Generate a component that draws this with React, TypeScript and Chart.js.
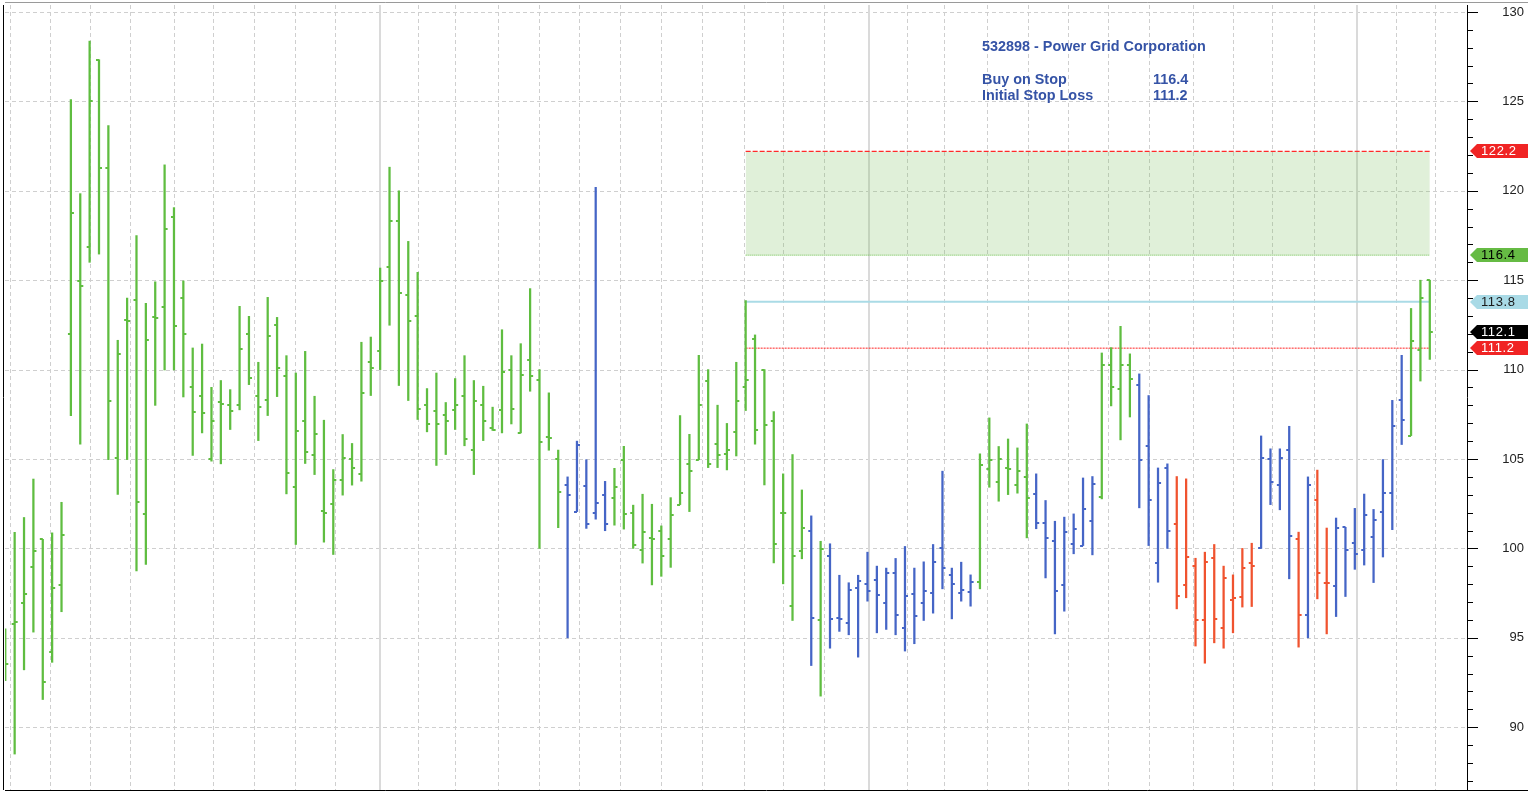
import React, { useEffect, useRef } from 'react';
import { Chart, registerables } from 'chart.js';

Chart.register(...registerables);

// ---- weekly OHLC data (bar index 0..152) ----
const opens = [
  94.0, 95.76, 96.93, 98.95, 100.5, 94.2, 97.96, 111.97, 114.96, 116.85,
  127.3, 121.26, 105.05, 112.75, 113.92, 101.91, 112.96, 113.48, 118.51, 114.0,
  109.0, 108.51, 105.0, 108.21, 108.01, 108.0, 112.0, 108.51, 108.32, 112.48,
  109.66, 103.43, 107.11, 105.25, 102.09, 102.46, 103.85, 105.0, 104.17, 110.41,
  111.02, 115.72, 118.31, 114.19, 112.98, 108.0, 107.71, 107.45, 107.73, 108.51,
  105.51, 108.0, 106.76, 107.73, 110.0, 106.46, 110.52, 109.42, 106.24, 105.0,
  103.57, 102.06, 103.5, 101.97, 103.01, 102.83, 104.96, 101.97, 99.91, 100.56,
  100.99, 100.5, 102.45, 104.7, 104.96, 109.35, 105.82, 105.26, 106.49, 109.01,
  111.71, 110.0, 107.13, 101.99, 96.79, 99.85, 100.96, 95.97, 99.6, 96.1,
  95.82, 97.76, 98.0, 98.24, 96.96, 98.62, 95.56, 97.44, 96.96, 97.52,
  100.0, 98.49, 97.52, 97.59, 98.13, 104.45, 103.7, 104.5, 103.52, 104.02,
  103.05, 101.43, 100.4, 97.98, 100.26, 100.16, 101.56, 102.9, 110.26, 108.92,
  110.26, 109.14, 105.71, 99.16, 104.5, 101.37, 97.98, 98.99, 95.97, 99.47,
  95.56, 97.09, 97.27, 99.17, 100.0, 105.0, 103.57, 105.53, 100.52, 96.28,
  102.72, 98.05, 97.92, 101.18, 100.32, 99.9, 100.64, 102.05, 103.09, 108.28,
  106.31, 111.07, 115.0,
];
const highs = [
  95.5, 100.9, 101.73, 103.88, 100.51, 100.87, 102.58, 125.1, 119.84, 128.37,
  127.33, 123.65, 111.64, 114.0, 117.5, 113.71, 114.91, 121.45, 119.06, 114.96,
  111.21, 111.43, 109.01, 109.39, 108.88, 113.54, 112.98, 110.41, 114.04, 112.92,
  110.78, 109.81, 111.02, 108.51, 107.17, 104.41, 106.37, 105.87, 111.53, 111.82,
  115.68, 121.32, 120.0, 117.17, 115.44, 108.94, 109.81, 108.16, 109.5, 110.78,
  109.39, 109.07, 107.9, 112.23, 110.78, 111.45, 114.53, 110.0, 108.7, 105.5,
  104.0, 106.0, 104.96, 120.19, 103.75, 104.48, 105.71, 102.42, 103.03, 102.47,
  101.26, 102.84, 107.43, 106.38, 110.8, 110.0, 108.01, 106.99, 110.41, 113.86,
  111.94, 110.0, 107.65, 104.17, 105.25, 103.27, 101.82, 100.4, 100.26, 98.5,
  98.08, 98.5, 99.79, 99.01, 98.9, 99.44, 100.11, 98.9, 99.25, 100.22,
  104.32, 98.9, 99.23, 98.52, 105.29, 107.3, 105.7, 106.12, 105.62, 106.96,
  104.17, 102.68, 101.52, 101.75, 101.93, 103.94, 104.02, 110.93, 111.23, 112.42,
  110.88, 109.76, 108.55, 104.5, 104.73, 104.02, 103.89, 99.45, 99.79, 100.22,
  99.01, 98.52, 100.0, 100.29, 106.29, 105.57, 105.57, 106.83, 100.91, 104.0,
  104.38, 101.14, 101.7, 101.18, 102.24, 103.04, 102.18, 104.97, 108.28, 110.8,
  113.42, 115.0, 115.0,
];
const lows = [
  92.6, 88.5, 93.21, 95.32, 91.55, 93.63, 96.46, 107.43, 105.83, 116.0,
  116.46, 104.97, 103.02, 104.97, 98.74, 99.1, 108.0, 109.98, 109.98, 108.47,
  105.2, 106.46, 104.88, 104.73, 106.65, 107.75, 109.16, 106.03, 107.43, 108.49,
  103.05, 100.22, 104.75, 104.13, 100.35, 99.66, 102.98, 103.54, 103.76, 108.55,
  110.0, 112.48, 109.11, 108.27, 107.21, 106.52, 104.64, 105.25, 106.65, 105.74,
  104.13, 106.03, 106.6, 106.46, 106.96, 106.46, 108.79, 100.0, 105.49, 101.16,
  95.0, 102.06, 101.12, 101.64, 100.99, 101.3, 101.08, 100.0, 99.18, 97.96,
  98.44, 98.94, 102.45, 102.06, 104.96, 104.52, 104.52, 104.39, 105.17, 107.71,
  105.83, 103.55, 99.19, 98.02, 95.97, 99.42, 93.45, 91.74, 94.42, 95.36,
  95.17, 93.92, 97.05, 95.28, 95.47, 95.17, 94.26, 94.67, 95.97, 96.38,
  97.74, 96.06, 97.05, 96.77, 97.74, 103.42, 102.64, 103.01, 103.09, 100.59,
  101.1, 98.35, 95.22, 96.49, 99.7, 100.16, 99.64, 102.77, 107.97, 106.07,
  107.35, 102.27, 100.16, 98.11, 100.0, 96.62, 97.24, 94.54, 93.58, 94.72,
  94.42, 95.28, 96.72, 96.75, 100.0, 102.45, 102.16, 98.3, 94.48, 95.0,
  97.18, 95.22, 96.19, 97.31, 98.83, 99.07, 98.09, 99.52, 101.05, 105.81,
  106.31, 109.36, 110.57,
];
const closes = [
  93.55, 95.89, 97.44, 99.86, 92.51, 97.76, 100.74, 118.75, 114.65, 125.0,
  121.26, 108.24, 110.89, 112.7, 102.58, 111.66, 112.9, 117.89, 112.42, 111.97,
  107.65, 107.58, 107.11, 108.08, 107.71, 111.14, 109.53, 107.9, 111.86, 110.09,
  104.21, 106.54, 105.38, 106.42, 101.96, 103.85, 105.03, 104.47, 108.7, 110.09,
  114.93, 118.31, 114.26, 112.74, 107.77, 106.98, 106.98, 107.11, 108.0, 106.13,
  108.27, 107.11, 106.65, 109.85, 107.77, 109.72, 109.66, 105.94, 106.2, 103.18,
  103.01, 105.76, 101.36, 102.53, 101.36, 103.44, 101.91, 100.19, 100.93, 100.5,
  99.57, 101.86, 103.12, 104.35, 108.01, 104.7, 105.2, 105.52, 108.27, 109.44,
  106.63, 106.93, 100.26, 102.0, 99.6, 101.13, 96.1, 99.98, 96.03, 96.03,
  97.68, 98.19, 97.63, 97.4, 98.62, 96.29, 97.33, 96.23, 97.63, 99.23,
  98.91, 98.0, 97.7, 98.13, 104.67, 104.93, 105.0, 104.45, 104.32, 102.83,
  101.43, 100.57, 97.63, 100.94, 101.06, 102.23, 103.63, 110.26, 109.03, 110.26,
  109.46, 104.93, 102.71, 103.65, 101.0, 97.33, 99.53, 95.97, 99.23, 96.04,
  98.32, 97.22, 98.88, 98.99, 105.06, 103.7, 105.06, 100.7, 96.3, 103.56,
  98.61, 98.05, 101.14, 99.91, 99.71, 101.87, 101.57, 103.09, 106.87, 107.17,
  111.58, 114.03, 112.1,
];
// trend colour of each bar: G = up (green), B = neutral (blue), R = down (red)
const trend = [
  'G','G','G','G','G','G','G','G','G','G',
  'G','G','G','G','G','G','G','G','G','G',
  'G','G','G','G','G','G','G','G','G','G',
  'G','G','G','G','G','G','G','G','G','G',
  'G','G','G','G','G','G','G','G','G','G',
  'G','G','G','G','G','G','G','G','G','G',
  'B','B','B','B','B','G','G','G','G','G',
  'G','G','G','G','G','G','G','G','G','G',
  'G','G','G','G','G','G','B','G','B','B',
  'B','B','B','B','B','B','B','B','B','B',
  'B','B','B','B','G','G','G','G','G','G',
  'B','B','B','B','B','B','B','G','G','G',
  'G','B','B','B','B','R','R','R','R','R',
  'R','R','R','R','B','B','B','B','R','B',
  'R','R','B','B','B','B','B','B','B','B',
  'G','G','G',
];

// month (dashed) and year (solid) separators, in bar-index units
const monthGrid = [0.53, 4.79, 9.02, 13.32, 18.0, 22.2, 26.5, 30.94, 35.16, 44.0, 47.98, 52.57, 56.99,
  61.2, 65.63, 69.93, 74.37, 78.8, 83.0, 87.4, 96.25, 100.2, 104.8, 109.1, 113.4, 117.7, 122.0,
  126.7, 131.0, 135.2, 139.6, 148.4, 152.6];
const yearGrid = [39.95, 92.2, 144.2];

const yTicks = [90, 95, 100, 105, 110, 115, 120, 125, 130];

// trade setup
const setupStart = 79;
const setupEnd = 152;
const targetPrice = 122.2;
const buyOnStop = 116.4;
const refLevel = 113.8;
const stopLoss = 111.2;
const titleText = '532898 - Power Grid Corporation';
const setupLabels = ['Buy on Stop', 'Initial Stop Loss'];
const setupValues = [buyOnStop, stopLoss];

const COLORS: Record<string, string> = { G: '#5fbd40', B: '#4565c6', R: '#f0532f' };

function makeTick(color: string, side: 'open' | 'close'): HTMLCanvasElement {
  const c = document.createElement('canvas');
  c.width = 8;
  c.height = 2;
  const g = c.getContext('2d')!;
  g.fillStyle = color;
  if (side === 'open') g.fillRect(1, 0, 3, 2);
  else g.fillRect(4, 0, 3, 2);
  return c;
}

const FONT = '"Liberation Sans", Arial, sans-serif';

export default function App() {
  const ref = useRef<HTMLCanvasElement>(null);

  useEffect(() => {
    document.body.style.margin = '0';
    const openImg: Record<string, HTMLCanvasElement> = {};
    const closeImg: Record<string, HTMLCanvasElement> = {};
    Object.keys(COLORS).forEach((k) => {
      openImg[k] = makeTick(COLORS[k], 'open');
      closeImg[k] = makeTick(COLORS[k], 'close');
    });

    const idx = opens.map((_, i) => i);
    const seg = (v: number) => [{ x: setupStart, y: v }, { x: setupEnd, y: v }];

    const gridPlugin = {
      id: 'customGrid',
      beforeDatasetsDraw(chart: any) {
        const { ctx, chartArea: a, scales } = chart;
        const x = scales.x, y = scales.y;
        ctx.save();
        ctx.lineWidth = 1;
        ctx.strokeStyle = '#cfcfcf';
        ctx.setLineDash([4, 3]);
        yTicks.forEach((v) => {
          const py = Math.round(y.getPixelForValue(v)) + 0.5;
          ctx.beginPath(); ctx.moveTo(a.left, py); ctx.lineTo(a.right, py); ctx.stroke();
        });
        monthGrid.forEach((v) => {
          const px = Math.round(x.getPixelForValue(v)) + 0.5;
          ctx.beginPath(); ctx.moveTo(px, a.top); ctx.lineTo(px, a.bottom); ctx.stroke();
        });
        ctx.setLineDash([]);
        ctx.strokeStyle = '#dadada';
        ctx.lineWidth = 2;
        yearGrid.forEach((v) => {
          const px = Math.round(x.getPixelForValue(v));
          ctx.beginPath(); ctx.moveTo(px, a.top); ctx.lineTo(px, a.bottom); ctx.stroke();
        });
        ctx.restore();
      },
    };

    const overlayPlugin = {
      id: 'overlay',
      afterDraw(chart: any) {
        const { ctx, chartArea: a, scales, width } = chart;
        const y = scales.y;
        ctx.save();
        // frame
        ctx.setLineDash([]);
        ctx.strokeStyle = '#9a9a9a';
        ctx.lineWidth = 1;
        ctx.beginPath(); ctx.moveTo(a.left, 2.5); ctx.lineTo(width, 2.5); ctx.stroke();
        ctx.strokeStyle = '#000';
        ctx.beginPath(); ctx.moveTo(3.5, a.top); ctx.lineTo(3.5, a.bottom); ctx.stroke();
        ctx.beginPath(); ctx.moveTo(a.left, a.bottom + 0.5); ctx.lineTo(width, a.bottom + 0.5); ctx.stroke();
        ctx.beginPath(); ctx.moveTo(a.right + 0.5, a.top); ctx.lineTo(a.right + 0.5, a.bottom); ctx.stroke();
        // axis tick marks (minor every 1, major every 5)
        for (let v = Math.ceil(y.min); v <= Math.floor(y.max); v++) {
          const py = Math.round(y.getPixelForValue(v)) + 0.5;
          const len = v % 5 === 0 ? 10 : 5;
          ctx.beginPath(); ctx.moveTo(a.right + 1, py); ctx.lineTo(a.right + 1 + len, py); ctx.stroke();
        }
        // price tags
        const tags = [
          { v: targetPrice, bg: '#f02424', fg: '#ffffff' },
          { v: buyOnStop, bg: '#66bb44', fg: '#000000' },
          { v: refLevel, bg: '#a9dae6', fg: '#1a1a1a' },
          { v: closes[closes.length - 1], bg: '#000000', fg: '#ffffff' },
          { v: stopLoss, bg: '#f02424', fg: '#ffffff' },
        ];
        ctx.font = `13px ${FONT}`;
        ctx.textBaseline = 'middle';
        ctx.textAlign = 'left';
        try { (ctx as any).letterSpacing = '0.6px'; } catch (e) { /* ignore */ }
        tags.forEach((t) => {
          const py = Math.round(y.getPixelForValue(t.v));
          const x0 = a.right + 3;
          ctx.fillStyle = t.bg;
          ctx.beginPath();
          ctx.moveTo(x0, py);
          ctx.lineTo(x0 + 7, py - 7);
          ctx.lineTo(width, py - 7);
          ctx.lineTo(width, py + 7);
          ctx.lineTo(x0 + 7, py + 7);
          ctx.closePath();
          ctx.fill();
          ctx.fillStyle = t.fg;
          ctx.fillText(t.v.toFixed(1), x0 + 11, py + 0.5);
        });
        try { (ctx as any).letterSpacing = '0px'; } catch (e) { /* ignore */ }
        // setup text
        ctx.fillStyle = '#3553a6';
        ctx.font = `bold 14.4px ${FONT}`;
        ctx.textBaseline = 'middle';
        ctx.fillText(titleText, 982, 47);
        setupLabels.forEach((lbl, i) => {
          const py = 80 + i * 16;
          ctx.fillText(lbl, 982, py);
          ctx.fillText(setupValues[i].toFixed(1), 1153, py);
        });
        ctx.restore();
      },
    };

    const chart = new Chart(ref.current!, {
      type: 'bar',
      data: {
        datasets: [
          {
            type: 'line', label: 'Target', data: seg(targetPrice),
            borderColor: '#ff2a2a', borderWidth: 1.3, borderDash: [5, 2], pointRadius: 0,
            fill: '+1', backgroundColor: 'rgba(120,190,90,0.23)', order: 10,
          } as any,
          {
            type: 'line', label: 'Buy on Stop', data: seg(buyOnStop),
            borderColor: '#66bb44', borderWidth: 1, borderDash: [1, 1], pointRadius: 0, fill: false, order: 10,
          } as any,
          {
            type: 'line', label: 'Reference', data: seg(refLevel),
            borderColor: '#aadbe6', borderWidth: 2, pointRadius: 0, fill: false, order: 9,
          } as any,
          {
            type: 'line', label: 'Stop Loss', data: seg(stopLoss),
            borderColor: '#ff2020', borderWidth: 1, borderDash: [2, 1], pointRadius: 0, fill: false, order: 9,
          } as any,
          {
            type: 'bar', label: 'Range', data: idx.map((i) => ({ x: i, y: [lows[i], highs[i]] })),
            backgroundColor: (c: any) => COLORS[trend[c.dataIndex]] || COLORS.G,
            borderWidth: 0, barThickness: 1.6, order: 2,
          } as any,
          {
            type: 'scatter', label: 'Open', data: idx.map((i) => ({ x: i, y: opens[i] })),
            pointStyle: (c: any) => openImg[trend[c.dataIndex]] || openImg.G,
            pointRadius: 3, order: 1,
          } as any,
          {
            type: 'scatter', label: 'Close', data: idx.map((i) => ({ x: i, y: closes[i] })),
            pointStyle: (c: any) => closeImg[trend[c.dataIndex]] || closeImg.G,
            pointRadius: 3, order: 1,
          } as any,
        ],
      },
      options: {
        animation: false,
        responsive: false,
        events: [],
        layout: { padding: { left: 3, top: 2, right: 4, bottom: 6 } },
        plugins: { legend: { display: false }, tooltip: { enabled: false } },
        scales: {
          x: { type: 'linear', min: -0.03, max: 155.97, offset: false, display: false },
          y: {
            type: 'linear', position: 'right', min: 86.49, max: 130.39,
            grid: { display: false, drawTicks: false },
            border: { display: false },
            afterBuildTicks: (s: any) => { s.ticks = yTicks.map((v) => ({ value: v })); },
            afterFit: (s: any) => { s.width = 57; s.paddingTop = 0; s.paddingBottom = 0; },
            ticks: {
              crossAlign: 'far', padding: 0, color: '#222222',
              font: { family: FONT, size: 13 },
              callback: (v: any) => String(v),
            },
          } as any,
        },
      } as any,
      plugins: [gridPlugin, overlayPlugin],
    });
    return () => chart.destroy();
  }, []);

  return (
    <div style={{ position: 'fixed', left: 0, top: 0, width: 1528, height: 796, background: '#ffffff' }}>
      <canvas ref={ref} width={1528} height={796} style={{ width: 1528, height: 796, display: 'block' }} />
    </div>
  );
}
